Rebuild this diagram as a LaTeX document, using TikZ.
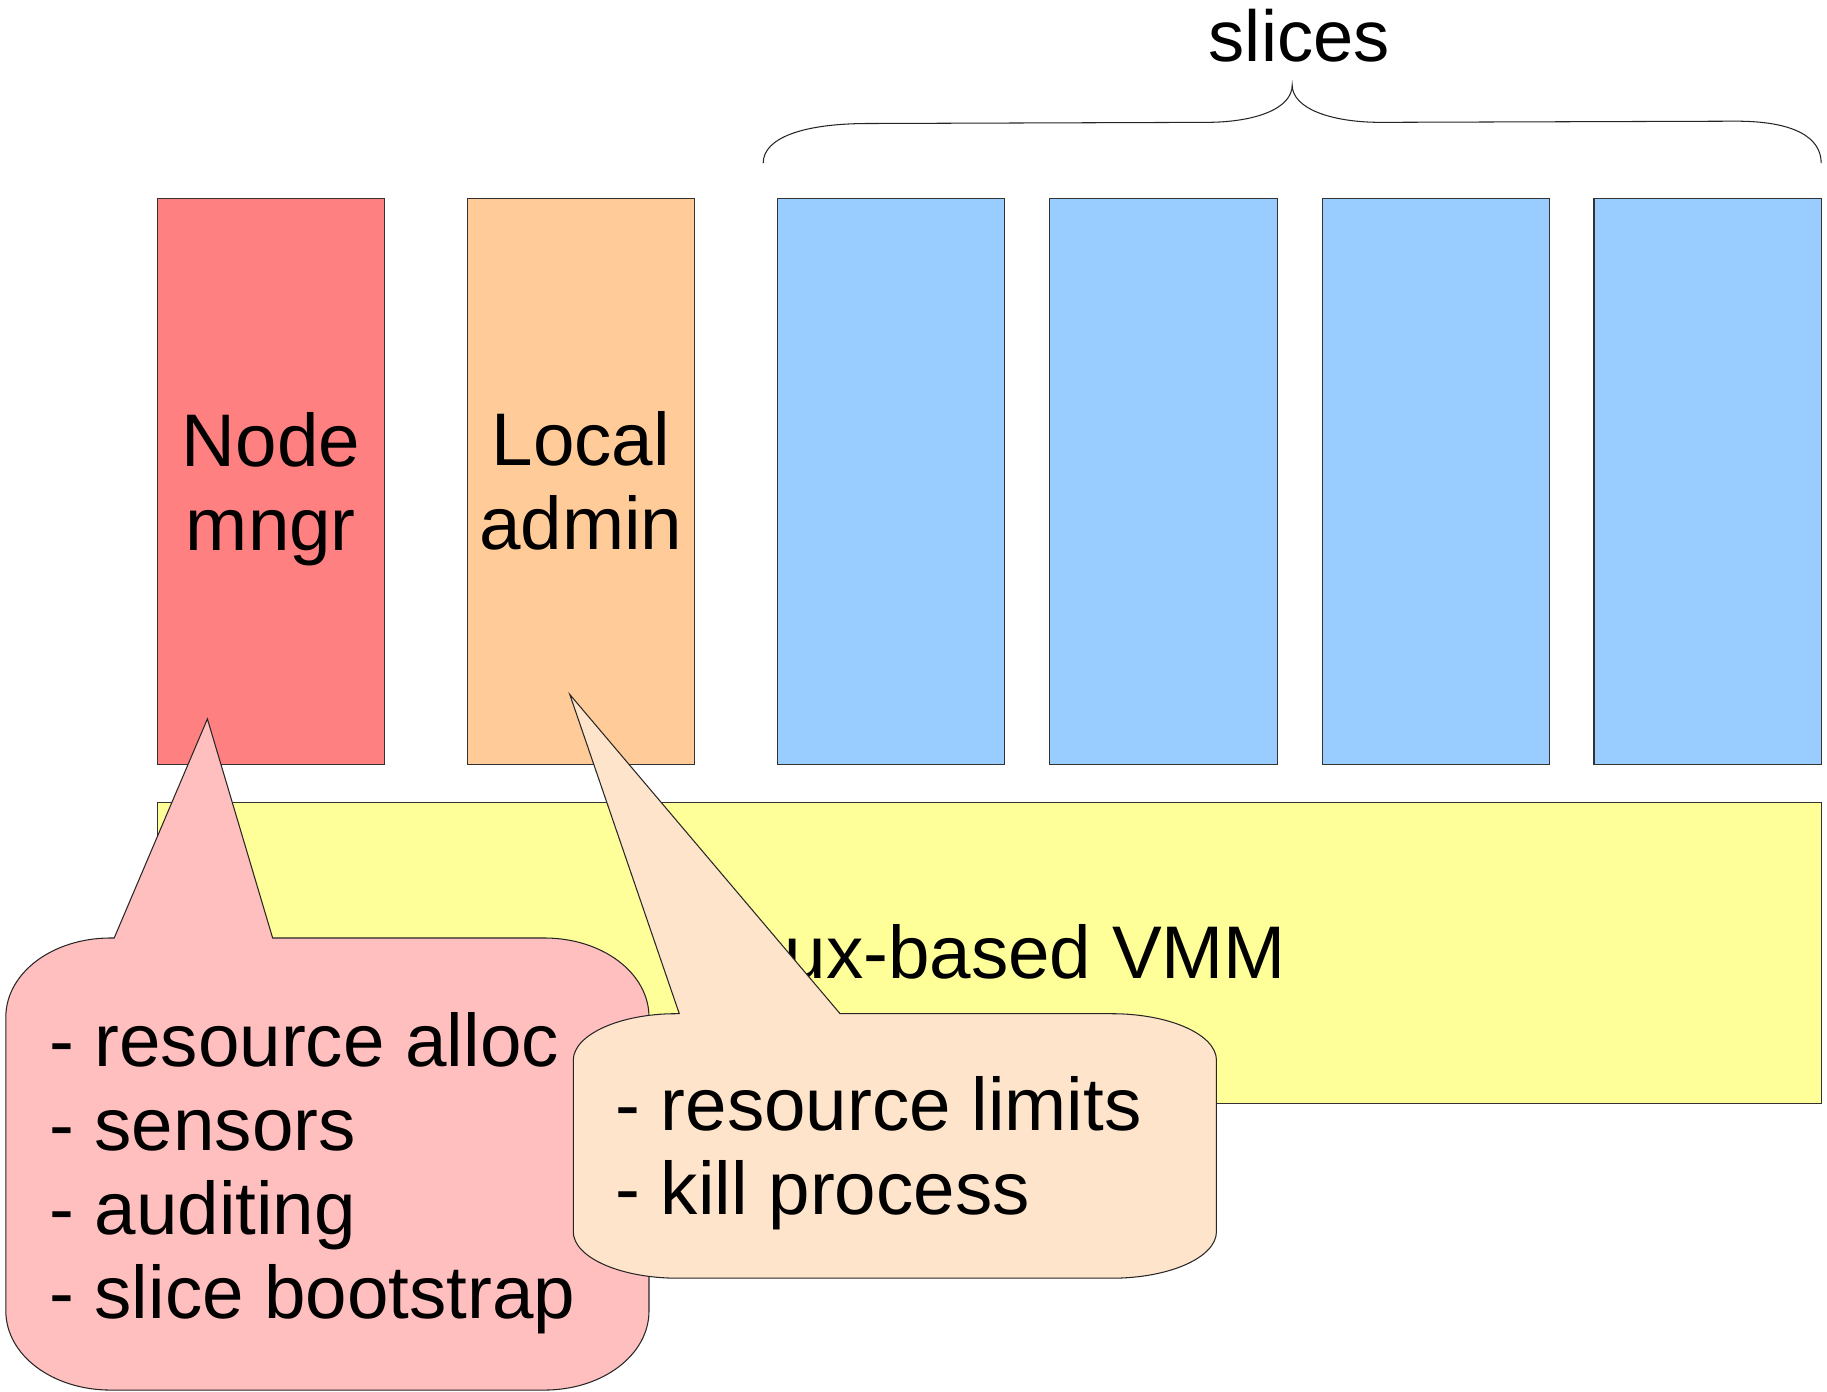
\documentclass[tikz,border=0pt]{standalone}
\usepackage{fontspec}
\setmainfont{Liberation Sans}
\begin{document}
\begin{tikzpicture}[x=1pt,y=-1pt,
  box/.style={draw=black!80,line width=0.9pt,minimum width=195pt,minimum height=486pt,inner sep=0pt,align=center,
              font=\fontsize{64}{72}\selectfont},
  lbl/.style={inner sep=0pt,font=\fontsize{64}{72}\selectfont},
  callout/.style={draw=black!85,line width=0.9pt},
  lst/.style={inner sep=0pt,align=left,anchor=north west,font=\fontsize{64}{72}\selectfont}]
\definecolor{cred}{HTML}{FF8080}
\definecolor{corange}{HTML}{FFCC99}
\definecolor{cblue}{HTML}{99CCFF}
\definecolor{cyellow}{HTML}{FFFF99}
\definecolor{cpink}{HTML}{FFBFBF}
\definecolor{cpeach}{HTML}{FFE4CC}
\useasboundingbox[fill=white] (0,0) rectangle (1568,1194);

% top boxes
\node[box,fill=cred] (nm) at (232.5,413) {Node\\\raisebox{0pt}[\height][0pt]{mngr}};
\node[box,fill=corange] (la) at (498.5,413) {Local\\admin};
\node[box,fill=cblue] (s1) at (764.5,413) {};
\node[box,fill=cblue] (s2) at (998.5,413) {};
\node[box,fill=cblue] (s3) at (1232.5,413) {};
\node[box,fill=cblue] (s4) at (1465.5,413) {};

% VMM
\node[box,fill=cyellow,minimum width=1428pt,minimum height=258pt] (vmm) at (849,818) {};
\node[lbl,anchor=base east] (vmmt) at (1104,840) {Linux-based VMM};

% brace and label
\coordinate (bl) at (655,140);
\coordinate (bt) at (1109,73);
\coordinate (br) at (1563,140);
\draw[line width=0.9pt,black!85] (bl) .. controls (655,118) and (690,106) .. (745,106) -- (1035,105)
  .. controls (1078,105) and (1109,93) .. (bt)
  .. controls (1109,93) and (1142,105) .. (1185,105) -- (1490,104)
  .. controls (1540,104) and (1563,118) .. (br);
\node[lbl,anchor=base,font=\fontsize{62}{70}\selectfont] (slices) at (1115,53) {slices};

% pink callout
\coordinate (ptip) at (178,617);
\draw[callout,fill=cpink] (95,805) -- (98,805) -- (ptip) -- (234,805) -- (467,805)
  .. controls (517,805) and (557,835) .. (557,873) -- (557,1125)
  .. controls (557,1163) and (517,1193) .. (467,1193) -- (95,1193)
  .. controls (45,1193) and (5,1163) .. (5,1125) -- (5,873)
  .. controls (5,835) and (45,805) .. (95,805) -- cycle;
\node[lst] (nmlist) at (42,869) {- resource alloc\\- sensors\\- auditing\\- slice bootstrap};

% peach callout
\coordinate (qtip) at (489,596);
\draw[callout,fill=cpeach] (580,870) -- (583,870) -- (qtip) -- (721,870) -- (954,870)
  .. controls (1004,870) and (1044,888) .. (1044,910) -- (1044,1057)
  .. controls (1044,1079) and (1004,1097) .. (954,1097) -- (582,1097)
  .. controls (532,1097) and (492,1079) .. (492,1057) -- (492,910)
  .. controls (492,888) and (532,870) .. (580,870) -- cycle;
\node[lst] (lalist) at (528,924) {- resource limits\\- kill process};
\end{tikzpicture}
\end{document}
